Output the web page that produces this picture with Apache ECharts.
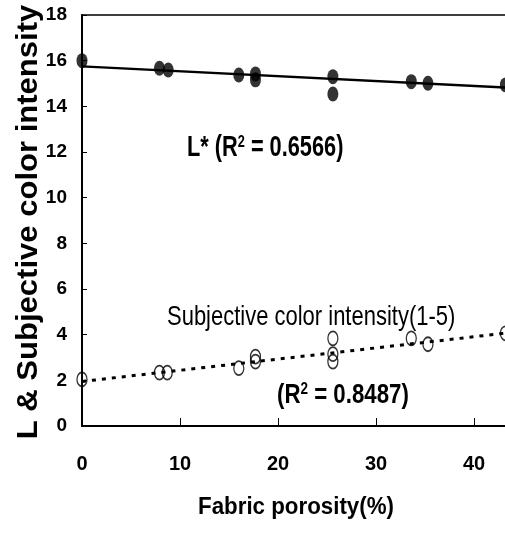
<!DOCTYPE html>
<html>
<head>
<meta charset="utf-8">
<script src="https://cdn.jsdelivr.net/npm/echarts@6/dist/echarts.min.js"></script>
<style>
html,body{margin:0;padding:0;background:#fff;}
#chart{width:505px;height:536px;}
</style>
</head>
<body>
<div id="chart"></div>
<script>
// ---- data ----
const lPorosity = [0, 7.9, 8.8, 16.0, 17.7, 17.7, 25.6, 25.6, 33.6, 35.3, 43.2];
const lValues   = [16.0, 15.67, 15.59, 15.37, 15.42, 15.16, 15.30, 14.54, 15.08, 15.01, 14.94];
const sPorosity = [0, 7.9, 8.7, 16.0, 17.7, 17.7, 25.6, 25.6, 25.6, 33.6, 35.3, 43.2];
const sValues   = [2.04, 2.34, 2.34, 2.53, 3.04, 2.82, 3.84, 3.15, 2.82, 3.84, 3.58, 4.06];
const lTrendX = [0, 50];
const lTrendY = [15.75, 14.68];
const sTrendX = [0, 50];
const sTrendY = [1.95, 4.40];
const xTicks = [0, 10, 20, 30, 40, 50];
const yTicks = [0, 2, 4, 6, 8, 10, 12, 14, 16, 18];
const xTitle = 'Fabric porosity(%)';
const yTitle = 'L & Subjective color intensity';

const zip = (a, b) => a.map((v, i) => [v, b[i]]);
const RF = "'Liberation Sans',Arial,sans-serif";
const ELL = 'path://M0,-1A1,1,0,1,1,0,1A1,1,0,1,1,0,-1Z';

const chart = echarts.init(document.getElementById('chart'), null, {renderer: 'canvas'});
chart.setOption({
  animation: false,
  backgroundColor: '#fff',
  grid: {left: 82, top: 15, width: 490, height: 411, outerBoundsMode: 'none', containLabel: false,
         show: true, borderColor: '#000', borderWidth: 1.5, backgroundColor: 'transparent'},
  xAxis: {
    type: 'value', min: xTicks[0], max: xTicks[xTicks.length - 1], interval: 10,
    axisLine: {lineStyle: {color: '#000', width: 2}},
    axisTick: {inside: true, length: 8, lineStyle: {color: '#000', width: 1}},
    axisLabel: {margin: 28, color: '#000', fontFamily: RF, fontWeight: 'bold', fontSize: 20},
    splitLine: {show: false}
  },
  yAxis: {
    type: 'value', min: yTicks[0], max: yTicks[yTicks.length - 1], interval: 2,
    axisLine: {lineStyle: {color: '#000', width: 2}},
    axisTick: {inside: true, length: 5, lineStyle: {color: '#000', width: 1}},
    axisLabel: {margin: 15, color: '#000', fontFamily: RF, fontWeight: 'bold', fontSize: 19},
    splitLine: {show: false}
  },
  series: [
    {type: 'line', data: zip(lTrendX, lTrendY), symbol: 'none', lineStyle: {color: '#000', width: 2.5}, z: 2},
    {type: 'line', data: zip(sTrendX, sTrendY), symbol: 'none', lineStyle: {color: '#000', width: 3, type: [4, 6]}, z: 2},
    {type: 'scatter', data: zip(lPorosity, lValues), symbol: ELL, symbolSize: [11, 15], itemStyle: {color: '#000'}, z: 3},
    {type: 'scatter', data: zip(sPorosity, sValues), symbol: ELL, symbolSize: [10, 14], itemStyle: {color: 'rgba(0,0,0,0)', borderColor: '#000', borderWidth: 1.5}, z: 3}
  ],
  graphic: [
    {type: 'text', x: 29, y: 222, rotation: Math.PI / 2, scaleX: 1.07,
     style: {text: yTitle, fill: '#000', font: 'bold 29px ' + RF, align: 'center', verticalAlign: 'middle'}},
    {type: 'text', x: 296, y: 507, scaleX: 0.93,
     style: {text: xTitle, fill: '#000', font: 'bold 24px ' + RF, align: 'center', verticalAlign: 'middle'}},
    {type: 'text', x: 187, y: 148, scaleX: 0.75,
     style: {text: '{a|L* (R}{s|2}{a| = 0.6566)}', align: 'left', verticalAlign: 'middle',
       rich: {a: {fontSize: 29, fontWeight: 'bold', fontFamily: RF, fill: '#000'},
              s: {fontSize: 17, fontWeight: 'bold', fontFamily: RF, fill: '#000', verticalAlign: 'top'}}}},
    {type: 'text', x: 167, y: 317, scaleX: 0.785,
     style: {text: 'Subjective color intensity(1-5)', fill: '#000', font: '28px ' + RF, align: 'left', verticalAlign: 'middle'}},
    {type: 'text', x: 277, y: 395, scaleX: 0.795,
     style: {text: '{a|(R}{s|2}{a| = 0.8487)}', align: 'left', verticalAlign: 'middle',
       rich: {a: {fontSize: 28, fontWeight: 'bold', fontFamily: RF, fill: '#000'},
              s: {fontSize: 17, fontWeight: 'bold', fontFamily: RF, fill: '#000', verticalAlign: 'top'}}}}
  ]
});
</script>
</body>
</html>
